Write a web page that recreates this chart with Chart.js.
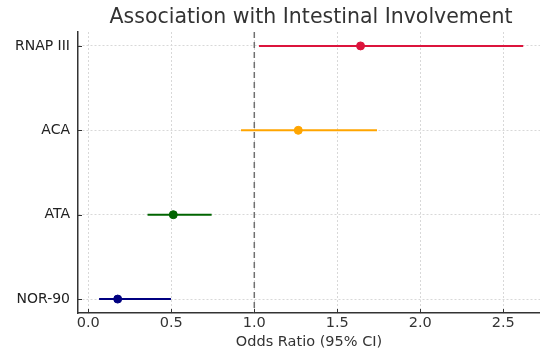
<!DOCTYPE html>
<html>
<head>
<meta charset="utf-8">
<script src="https://cdn.jsdelivr.net/npm/chart.js@4/dist/chart.umd.min.js"></script>
<style>
  html, body { margin: 0; padding: 0; background: #fff; overflow: hidden; }
  #wrap { width: 540px; height: 354px; position: relative; }
</style>
</head>
<body>
<div id="wrap"><canvas id="forest"></canvas></div>
<script>
// Données (de haut en bas)
const markers = ['RNAP III', 'ACA', 'ATA', 'NOR-90'];
const oddsRatio = [1.64, 1.265, 0.512, 0.177];
const ciLow = [1.028, 0.92, 0.357, 0.065];
const ciHigh = [2.62, 1.739, 0.743, 0.498];
const colors = ['#DC143C', '#FFA500', '#006400', '#000080'];
const xTicks = [0, 0.5, 1.0, 1.5, 2.0, 2.5];
const refLine = 1;
const chartTitle = 'Association with Intestinal Involvement';

// Segments des intervalles de confiance
const ciSets = markers.map((m, i) => ({
  type: 'line',
  data: [{ x: ciLow[i], y: i }, { x: ciHigh[i], y: i }],
  borderColor: colors[i],
  borderWidth: 2,
  pointRadius: 0,
  order: 2
}));

// Points des odds ratios
const pointSet = {
  type: 'scatter',
  data: markers.map((m, i) => ({ x: oddsRatio[i], y: i })),
  backgroundColor: colors,
  borderColor: colors,
  pointRadius: 4,
  order: 1
};

// Ligne de référence OR = 1
const refSet = {
  type: 'line',
  data: [{ x: refLine, y: -0.165 }, { x: refLine, y: 3.165 }],
  borderColor: '#707070',
  borderWidth: 1.5,
  borderDash: [6, 4],
  pointRadius: 0,
  order: 3
};

// Titre centré sur la zone du graphique + graduations vers l'intérieur
const decorations = {
  id: 'decorations',
  afterDraw(chart) {
    const { ctx, chartArea, scales } = chart;
    ctx.save();
    ctx.fillStyle = '#333';
    ctx.font = '20.5px "DejaVu Sans"';
    ctx.textAlign = 'center';
    ctx.textBaseline = 'middle';
    ctx.fillText(chartTitle, (chartArea.left + chartArea.right) / 2 + 2, 18);

    ctx.strokeStyle = '#333';
    ctx.lineWidth = 1;
    ctx.beginPath();
    scales.x.ticks.forEach(t => {
      const px = Math.round(scales.x.getPixelForValue(t.value)) + 0.5;
      ctx.moveTo(px, chartArea.bottom);
      ctx.lineTo(px, chartArea.bottom - 4);
    });
    scales.y.ticks.forEach(t => {
      const py = Math.round(scales.y.getPixelForValue(t.value)) + 0.5;
      ctx.moveTo(chartArea.left, py);
      ctx.lineTo(chartArea.left + 4, py);
    });
    ctx.stroke();
    ctx.restore();
  }
};

new Chart(document.getElementById('forest'), {
  data: { datasets: [refSet, ...ciSets, pointSet] },
  options: {
    responsive: true,
    maintainAspectRatio: false,
    animation: false,
    layout: { autoPadding: false, padding: { left: 0, right: 0, top: 32, bottom: 0 } },
    plugins: {
      legend: { display: false },
      tooltip: { enabled: false }
    },
    scales: {
      x: {
        type: 'linear',
        min: -0.062,
        max: 2.721,
        afterBuildTicks: scale => { scale.ticks = xTicks.map(v => ({ value: v })); },
        afterFit: scale => { scale.height = 41; scale.paddingRight = 0; scale.paddingLeft = 0; },
        ticks: {
          color: '#333',
          font: { family: 'DejaVu Sans', size: 14.5 },
          padding: 2,
          callback: v => v.toFixed(1)
        },
        grid: { color: '#d8d8d8', tickLength: 0, lineWidth: 1 },
        border: { display: true, color: '#333', width: 1.5, dash: [2, 2] },
        title: {
          display: true,
          text: 'Odds Ratio (95% CI)',
          color: '#333',
          font: { family: 'DejaVu Sans', size: 14.5 },
          padding: { top: 0, bottom: 3 }
        }
      },
      y: {
        type: 'linear',
        reverse: true,
        min: -0.165,
        max: 3.165,
        afterBuildTicks: scale => { scale.ticks = markers.map((m, i) => ({ value: i })); },
        afterFit: scale => { scale.width = 78; },
        ticks: {
          color: '#222',
          font: { family: 'DejaVu Sans', size: 14 },
          padding: 8,
          callback: v => markers[v]
        },
        grid: { color: '#d8d8d8', tickLength: 0, lineWidth: 1 },
        border: { display: true, color: '#333', width: 1.5, dash: [2, 2] }
      }
    }
  },
  plugins: [decorations]
});
</script>
</body>
</html>
